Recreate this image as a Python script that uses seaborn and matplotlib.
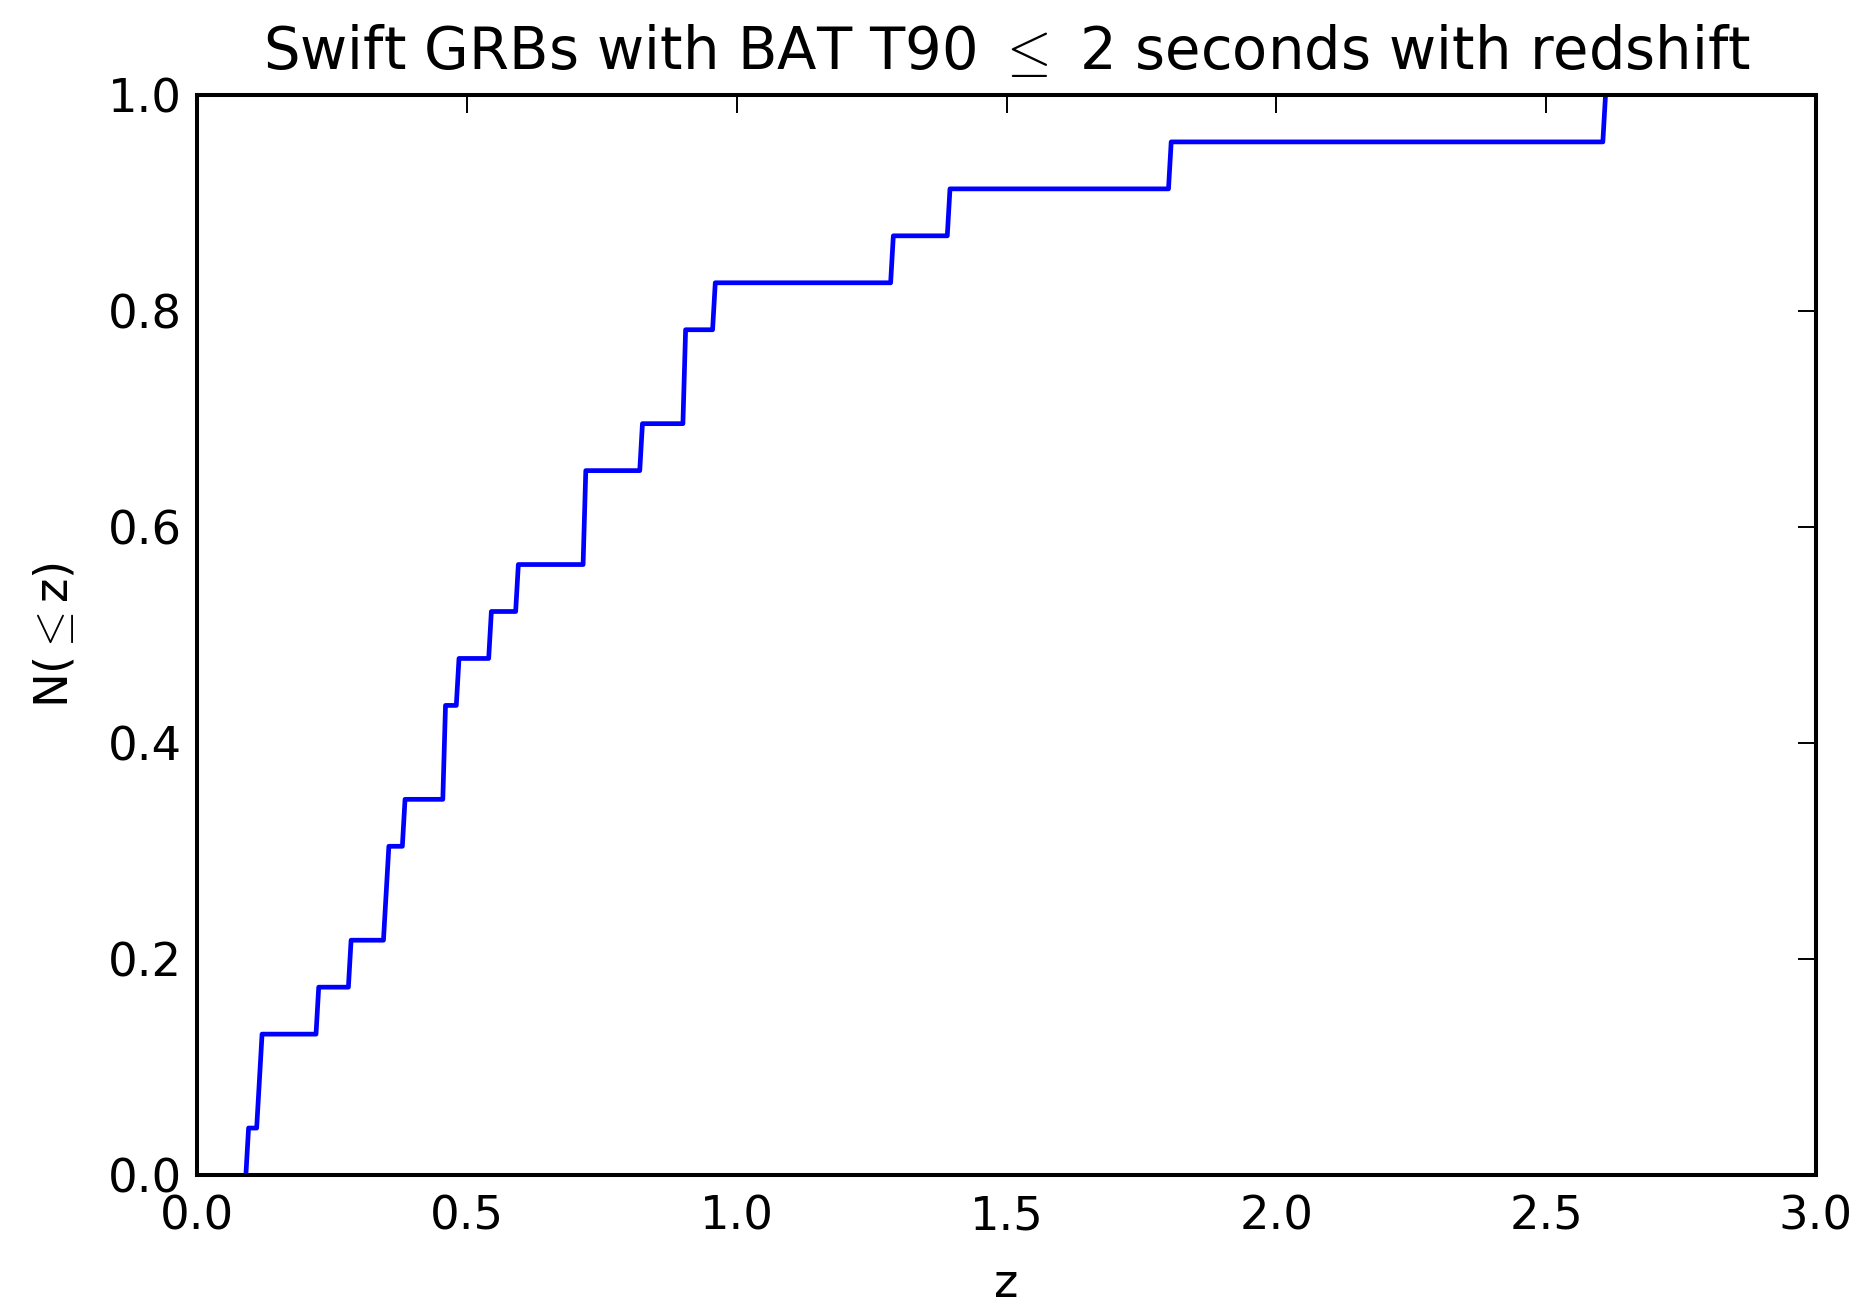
import numpy as np
import pandas as pd
import matplotlib
matplotlib.use("Agg")
import matplotlib.pyplot as plt
import seaborn as sns

# Redshifts of Swift short GRBs (BAT T90 <= 2 s) with measured z
redshifts = [0.092, 0.111, 0.119, 0.222, 0.285, 0.349, 0.353, 0.380,
             0.455, 0.457, 0.482, 0.544, 0.593, 0.715, 0.717, 0.824,
             0.901, 0.903, 0.959, 1.285, 1.394, 1.800, 2.608]

x_ticks = [0.0, 0.5, 1.0, 1.5, 2.0, 2.5, 3.0]
y_ticks = [0.0, 0.2, 0.4, 0.6, 0.8, 1.0]

title_text = r"Swift GRBs with BAT T90 $\leq$ 2 seconds with redshift"
x_label = "z"
y_label = r"N($\leq$z)"

# Cumulative distribution built from a fine-binned histogram
bin_width = 0.005
edges = np.arange(0.0, 3.0 + bin_width / 2, bin_width)
counts, _ = np.histogram(redshifts, bins=edges)
cum_frac = np.cumsum(counts) / len(redshifts)
cdf = pd.DataFrame({"z": edges[1:], "frac": cum_frac})

# keep the curve between the last empty bin and the first full one
first = max(int(np.argmax(cum_frac > 0)) - 1, 0)
last = int(np.argmax(cum_frac >= 1.0))
cdf = cdf.iloc[first:last + 1]

sns.set_style("white")
plt.rcParams["font.family"] = ["DejaVu Sans"]
plt.rcParams["mathtext.fontset"] = "cm"
plt.rcParams["text.color"] = "black"
plt.rcParams["axes.labelcolor"] = "black"

fig = plt.figure(figsize=(18.65, 13.06), dpi=100)
ax = fig.add_axes([0.1058, 0.1003, 0.9737 - 0.1058, 0.9273 - 0.1003])

sns.lineplot(data=cdf, x="z", y="frac", ax=ax, color="blue",
             linewidth=3.4, estimator=None, sort=False)

ax.set_xlim(0.0, 3.0)
ax.set_ylim(0.0, 1.0)
ax.set_xticks(x_ticks)
ax.set_yticks(y_ticks)
ax.set_xticklabels([f"{v:.1f}" for v in x_ticks])
ax.set_yticklabels([f"{v:.1f}" for v in y_ticks])

ax.tick_params(direction="in", length=13, width=1.4, top=True, right=True,
               labelsize=33.5, colors="black")
ax.tick_params(axis="x", pad=14)
ax.tick_params(axis="y", pad=11)

for sp in ax.spines.values():
    sp.set_visible(True)
    sp.set_linewidth(2.9)
    sp.set_color("black")
    sp.set_zorder(5)

ax.set_title(title_text, fontsize=41.5, pad=19, color="black")
ax.set_xlabel(x_label, fontsize=33.5, labelpad=16)
ax.set_ylabel(y_label, fontsize=33.5, labelpad=22)

fig.savefig("out.png", dpi=100, facecolor="white")
